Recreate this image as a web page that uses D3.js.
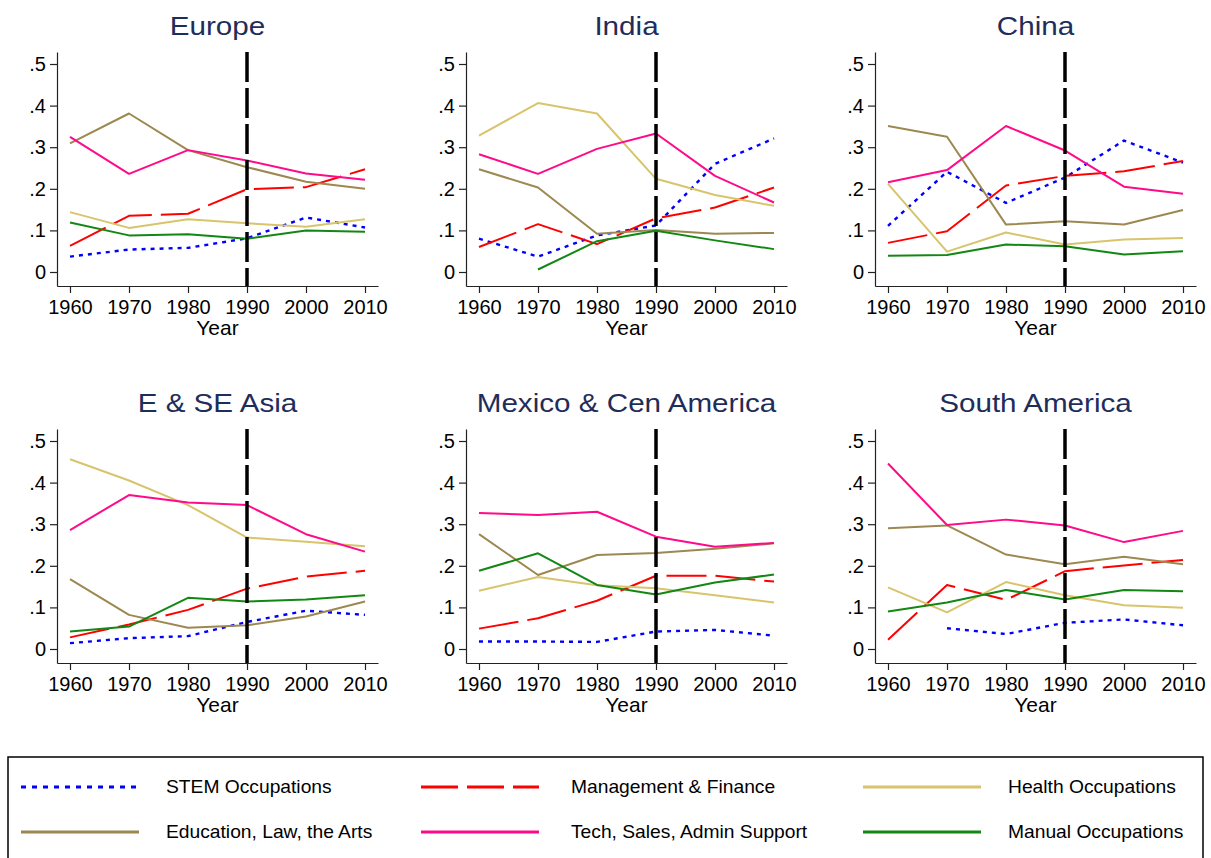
<!DOCTYPE html>
<html>
<head>
<meta charset="utf-8">
<script src="https://cdn.jsdelivr.net/npm/d3@7"></script>
<style>
  html, body { margin: 0; padding: 0; background: #fff; }
  svg { display: block; font-family: "Liberation Sans", Arial, sans-serif; }
</style>
</head>
<body>
<svg id="chart" width="1211" height="858"></svg>
<script>
// ---------- data ----------
const years = [1960, 1970, 1980, 1990, 2000, 2010];
const regions = ["Europe", "India", "China", "E & SE Asia", "Mexico & Cen America", "South America"];
const yTicks = [0, 0.1, 0.2, 0.3, 0.4, 0.5];
const yTickLabels = ["0", ".1", ".2", ".3", ".4", ".5"];
const xTicks = [1960, 1970, 1980, 1990, 2000, 2010];
const breakYear = 1990;
const seriesNames = ["STEM Occupations", "Management & Finance", "Health Occupations",
                     "Education, Law, the Arts", "Tech, Sales, Admin Support", "Manual Occupations"];

// one row per region (same order as regions), one value per year
const stem = [
  [0.037, 0.054, 0.058, 0.081, 0.131, 0.107],
  [0.080, 0.037, 0.088, 0.112, 0.260, 0.321],
  [0.111, 0.241, 0.166, 0.227, 0.316, 0.263],
  [0.014, 0.026, 0.031, 0.065, 0.092, 0.082],
  [0.018, 0.018, 0.017, 0.042, 0.046, 0.032],
  [null,  0.050, 0.036, 0.063, 0.071, 0.057]
];
const management = [
  [0.063, 0.135, 0.140, 0.199, 0.204, 0.247],
  [0.060, 0.115, 0.067, 0.129, 0.155, 0.203],
  [0.070, 0.098, 0.208, 0.231, 0.242, 0.267],
  [0.028, 0.059, 0.094, 0.145, 0.174, 0.188],
  [0.049, 0.074, 0.116, 0.176, 0.176, 0.162],
  [0.022, 0.154, 0.118, 0.187, 0.201, 0.214]
];
const health = [
  [0.144, 0.106, 0.127, 0.117, 0.109, 0.127],
  [0.328, 0.406, 0.381, 0.224, 0.185, 0.159],
  [0.212, 0.049, 0.095, 0.066, 0.078, 0.082],
  [0.456, 0.405, 0.346, 0.268, 0.258, 0.247],
  [0.140, 0.173, 0.153, 0.146, 0.129, 0.112],
  [0.148, 0.088, 0.161, 0.129, 0.105, 0.099]
];
const education = [
  [0.309, 0.381, 0.293, 0.252, 0.217, 0.200],
  [0.247, 0.203, 0.092, 0.101, 0.092, 0.094],
  [0.351, 0.325, 0.114, 0.122, 0.114, 0.149],
  [0.168, 0.082, 0.051, 0.057, 0.078, 0.114],
  [0.276, 0.178, 0.226, 0.231, 0.241, 0.254],
  [0.290, 0.297, 0.227, 0.204, 0.222, 0.204]
];
const tech = [
  [0.325, 0.236, 0.293, 0.268, 0.237, 0.222],
  [0.283, 0.236, 0.296, 0.333, 0.231, 0.167],
  [0.216, 0.245, 0.351, 0.292, 0.205, 0.188],
  [0.286, 0.370, 0.352, 0.346, 0.276, 0.234],
  [0.327, 0.322, 0.330, 0.270, 0.246, 0.255],
  [0.446, 0.298, 0.311, 0.297, 0.257, 0.284]
];
const manual = [
  [0.119, 0.088, 0.091, 0.080, 0.100, 0.097],
  [null,  0.006, 0.074, 0.099, 0.076, 0.055],
  [0.039, 0.041, 0.066, 0.062, 0.042, 0.050],
  [0.042, 0.054, 0.123, 0.114, 0.119, 0.129],
  [0.188, 0.230, 0.154, 0.131, 0.160, 0.179],
  [0.090, 0.112, 0.142, 0.119, 0.142, 0.139]
];

// ---------- styles ----------
const seriesData = [stem, management, health, education, tech, manual];
const colors = ["#0000ff", "#ff0000", "#d8c46c", "#9c8850", "#ff0a88", "#138713"];
const dashes = ["4,5", "40,9", null, null, null, null];
const legendDashes = ["5,6", "37,9", null, null, null, null];

// ---------- layout ----------
const svg = d3.select("#chart");
const colX = [57, 466, 875];     // y-axis position of each column
const rowTop = [52, 429];        // top of plot region of each row
const plotW = 321, plotH = 234;
const FONT = '"Liberation Sans", Arial, sans-serif';
const titleColor = "#1f2d5a";

regions.forEach((name, i) => {
  const ox = colX[i % 3], oy = rowTop[Math.floor(i / 3)];
  // domains extend slightly past the data range (Stata-like margins)
  const x = d3.scaleLinear().domain([1957.797, 2012.203]).range([ox, ox + plotW]);
  const y = d3.scaleLinear().domain([-0.03365, 0.52885]).range([oy + plotH, oy]);
  const g = svg.append("g");

  // title (Stata text renders slightly wider than Arial)
  g.append("text")
    .attr("transform", `translate(${ox + plotW / 2},${oy - 17}) scale(1.14,1)`)
    .attr("text-anchor", "middle").attr("font-size", 26).attr("fill", titleColor)
    .text(name);

  // y axis
  const ya = g.append("g").attr("transform", `translate(${ox},0)`)
    .call(d3.axisLeft(y).tickValues(yTicks).tickFormat((d, k) => yTickLabels[k])
      .tickSize(7).tickSizeOuter(0).tickPadding(4));
  ya.selectAll("text").attr("font-size", 20).attr("font-family", FONT).attr("fill", "#000");
  ya.selectAll("line, path").attr("stroke", "#222").attr("stroke-width", 1.2);

  // x axis
  const xa = g.append("g").attr("transform", `translate(0,${oy + plotH})`)
    .call(d3.axisBottom(x).tickValues(xTicks).tickFormat(d3.format("d"))
      .tickSize(7).tickSizeOuter(0).tickPadding(7));
  xa.selectAll("text").attr("font-size", 20).attr("font-family", FONT).attr("fill", "#000");
  xa.selectAll("line, path").attr("stroke", "#222").attr("stroke-width", 1.2);

  // x axis title
  g.append("text")
    .attr("transform", `translate(${ox + plotW / 2},${oy + 283}) scale(1.05,1)`)
    .attr("text-anchor", "middle").attr("font-size", 20).attr("fill", "#000")
    .text("Year");

  // series
  const line = d3.line()
    .defined(d => d.v !== null)
    .x(d => x(d.year)).y(d => y(d.v));
  seriesData.forEach((arr, s) => {
    const pts = years.map((yr, k) => ({ year: yr, v: arr[i][k] }));
    g.append("path").datum(pts)
      .attr("d", line)
      .attr("fill", "none")
      .attr("stroke", colors[s])
      .attr("stroke-width", s === 0 ? 2.4 : 2)
      .attr("stroke-dasharray", dashes[s])
      .attr("stroke-linejoin", "round");
  });

  // vertical dashed reference line
  g.append("line")
    .attr("x1", x(breakYear)).attr("x2", x(breakYear))
    .attr("y1", oy).attr("y2", oy + plotH)
    .attr("stroke", "#000").attr("stroke-width", 3.5)
    .attr("stroke-dasharray", "30,6");
});

// ---------- legend ----------
const lg = svg.append("g");
lg.append("rect").attr("x", 8).attr("y", 757).attr("width", 1195).attr("height", 120)
  .attr("fill", "#fff").attr("stroke", "#000").attr("stroke-width", 1.5);
const legSymX = [21, 421, 863], legTextX = [166, 571, 1008], legRowY = [787, 832];
const symLen = 118;
seriesNames.forEach((nm, s) => {
  const c = s % 3, r = Math.floor(s / 3);
  lg.append("line")
    .attr("x1", legSymX[c]).attr("x2", legSymX[c] + symLen)
    .attr("y1", legRowY[r]).attr("y2", legRowY[r])
    .attr("stroke", colors[s]).attr("stroke-width", 3)
    .attr("stroke-dasharray", legendDashes[s]);
  lg.append("text")
    .attr("transform", `translate(${legTextX[c]},${legRowY[r]}) scale(1.1,1)`)
    .attr("dy", "0.35em").attr("font-size", 17.5).attr("fill", "#000")
    .text(nm);
});
</script>
</body>
</html>
